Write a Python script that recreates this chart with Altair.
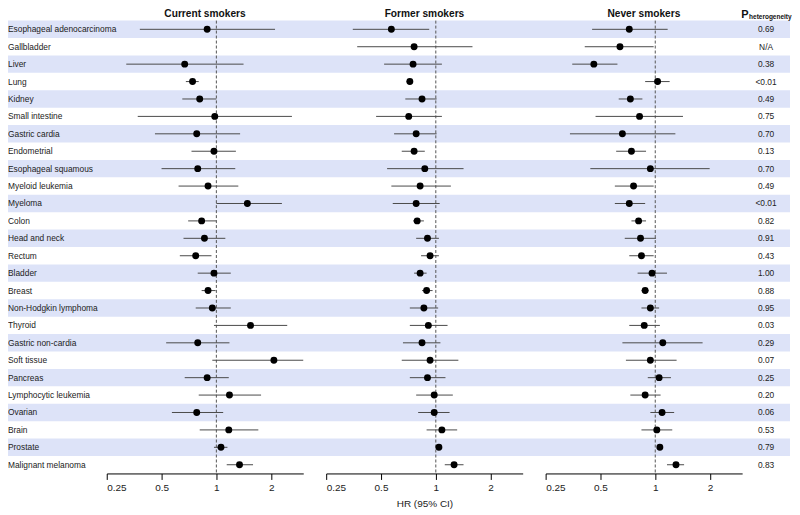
import altair as alt
import pandas as pd

cancers = [
    "Esophageal adenocarcinoma", "Gallbladder", "Liver", "Lung", "Kidney",
    "Small intestine", "Gastric cardia", "Endometrial", "Esophageal squamous",
    "Myeloid leukemia", "Myeloma", "Colon", "Head and neck", "Rectum",
    "Bladder", "Breast", "Non-Hodgkin lymphoma", "Thyroid", "Gastric non-cardia",
    "Soft tissue", "Pancreas", "Lymphocytic leukemia", "Ovarian", "Brain",
    "Prostate", "Malignant melanoma",
]

cur_hr = [0.89, None, 0.67, 0.74, 0.81, 0.98, 0.78, 0.97, 0.79, 0.90, 1.48, 0.83, 0.86,
          0.77, 0.97, 0.90, 0.95, 1.54, 0.79, 2.07, 0.89, 1.18, 0.78, 1.17, 1.06, 1.34]
cur_lo = [0.38, None, 0.32, 0.68, 0.65, 0.37, 0.46, 0.73, 0.50, 0.62, 1.00, 0.70, 0.66,
          0.63, 0.79, 0.83, 0.77, 0.97, 0.53, 0.95, 0.67, 0.80, 0.57, 0.81, 0.97, 1.14]
cur_hi = [2.10, None, 1.41, 0.80, 1.00, 2.60, 1.35, 1.28, 1.27, 1.32, 2.29, 1.00, 1.12,
          0.94, 1.20, 0.99, 1.20, 2.45, 1.18, 3.00, 1.17, 1.76, 1.09, 1.70, 1.15, 1.59]

for_hr = [0.57, 0.76, 0.75, 0.72, 0.84, 0.71, 0.78, 0.76, 0.87, 0.82, 0.78, 0.79, 0.90,
          0.93, 0.82, 0.89, 0.86, 0.91, 0.84, 0.93, 0.90, 0.98, 0.98, 1.08, 1.04, 1.26]
for_lo = [0.35, 0.37, 0.52, 0.69, 0.68, 0.47, 0.59, 0.65, 0.54, 0.57, 0.58, 0.75, 0.78,
          0.83, 0.76, 0.84, 0.72, 0.72, 0.66, 0.65, 0.72, 0.78, 0.80, 0.89, 1.00, 1.12]
for_hi = [0.92, 1.59, 1.08, 0.75, 1.01, 1.08, 1.01, 0.87, 1.42, 1.21, 1.05, 0.86, 1.04,
          1.04, 0.89, 0.96, 1.03, 1.16, 1.06, 1.33, 1.13, 1.24, 1.19, 1.31, 1.07, 1.42]

nev_hr = [0.72, 0.64, 0.46, 1.03, 0.73, 0.82, 0.66, 0.74, 0.94, 0.76, 0.72, 0.81, 0.83,
          0.84, 0.96, 0.88, 0.94, 0.87, 1.10, 0.94, 1.05, 0.88, 1.09, 1.02, 1.06, 1.30]
nev_lo = [0.45, 0.41, 0.35, 0.88, 0.63, 0.47, 0.34, 0.61, 0.44, 0.60, 0.60, 0.74, 0.68,
          0.72, 0.80, 0.84, 0.84, 0.72, 0.66, 0.69, 0.91, 0.73, 0.94, 0.84, 1.03, 1.16]
nev_hi = [1.17, 0.98, 0.62, 1.20, 0.85, 1.42, 1.29, 0.89, 1.99, 0.98, 0.88, 0.89, 1.01,
          0.98, 1.16, 0.92, 1.05, 1.06, 1.82, 1.31, 1.22, 1.07, 1.27, 1.24, 1.09, 1.44]

p_values = ["0.69", "N/A", "0.38", "<0.01", "0.49", "0.75", "0.70", "0.13", "0.70",
            "0.49", "<0.01", "0.82", "0.91", "0.43", "1.00", "0.88", "0.95", "0.03",
            "0.29", "0.07", "0.25", "0.20", "0.06", "0.53", "0.79", "0.83"]

tick_values = [0.25, 0.5, 1, 2]

FONT = "Liberation Sans"
H = 454
W = 197
BAND = "#dde3f8"

yscale = alt.Scale(domain=cancers, paddingInner=0, paddingOuter=0)


def yenc():
    return alt.Y("cancer:N", sort=cancers, axis=None, scale=yscale)


def xenc(field, show_title):
    axis = alt.Axis(values=tick_values, format="~g",
                    title="HR (95% CI)" if show_title else None)
    return alt.X(field, type="quantitative",
                 scale=alt.Scale(type="log", base=2, domain=[0.25, 3], nice=False),
                 axis=axis)


def forest(name, hr, lo, hi, show_title):
    df = pd.DataFrame({"cancer": cancers, "hr": hr, "lo": lo, "hi": hi}).dropna()
    ref = alt.Chart(pd.DataFrame({"ref": [1.0]})).mark_rule(
        color="#555555", strokeDash=[3, 2], strokeWidth=1
    ).encode(x=xenc("ref", show_title))
    ci = alt.Chart(df).mark_rule(color="#4a4a4a", strokeWidth=1).encode(
        x=xenc("lo", show_title), x2="hi:Q", y=yenc()
    )
    pt = alt.Chart(df).mark_point(
        filled=True, shape="circle", color="black", size=48, opacity=1
    ).encode(x=xenc("hr", show_title), y=yenc())
    return alt.layer(ref, ci, pt).properties(
        width=W, height=H, title=alt.TitleParams(name)
    )


lab_df = pd.DataFrame({"cancer": cancers,
                       "shade": [i % 2 == 0 for i in range(len(cancers))]})

bands = alt.Chart(lab_df).transform_filter("datum.shade").mark_rect(
    color=BAND
).encode(y=yenc(), x=alt.value(0), x2=alt.value(784))
labels = alt.Chart(lab_df).mark_text(
    align="left", baseline="middle", fontSize=8.4, font=FONT, color="#222222"
).encode(y=yenc(), x=alt.value(0), text="cancer:N")
label_panel = alt.layer(bands, labels).properties(width=76, height=H)

p_df = pd.DataFrame({"cancer": cancers, "p": p_values})
p_text = alt.Chart(p_df).mark_text(
    align="center", baseline="middle", fontSize=8.4, font=FONT, color="#222222"
).encode(y=yenc(), x=alt.value(1), text="p:N")
p_head = alt.Chart(pd.DataFrame({"h": ["P"]})).mark_text(
    align="left", baseline="alphabetic", fontSize=11, fontWeight="bold",
    font=FONT, color="#111111"
).encode(x=alt.value(-24), y=alt.value(-3), text="h:N")
p_sub = alt.Chart(pd.DataFrame({"h": ["heterogeneity"]})).mark_text(
    align="left", baseline="alphabetic", fontSize=6.5, fontWeight="bold",
    font=FONT, color="#111111"
).encode(x=alt.value(-16), y=alt.value(-2), text="h:N")
p_panel = alt.layer(p_text, p_head, p_sub).properties(width=25, height=H)

chart = alt.hconcat(
    label_panel,
    forest("Current smokers", cur_hr, cur_lo, cur_hi, False),
    forest("Former smokers", for_hr, for_lo, for_hi, True),
    forest("Never smokers", nev_hr, nev_lo, nev_hi, False),
    p_panel,
    spacing=23,
    bounds="flush",
).properties(padding=0).configure_view(stroke=None).configure_axis(
    grid=False, domainColor="black", tickColor="black", tickSize=6,
    domainWidth=1, tickWidth=1, labelFontSize=10, labelFont=FONT,
    labelColor="#222222", labelPadding=3, titleFont=FONT, titleFontSize=10,
    titleFontWeight="normal", titleColor="#222222", titlePadding=6,
).configure_title(
    font=FONT, fontSize=10.2, fontWeight="bold", color="#111111",
    offset=1, baseline="bottom", anchor="middle",
)

chart.save("out.html", embed_options={"renderer": "svg", "actions": False})
